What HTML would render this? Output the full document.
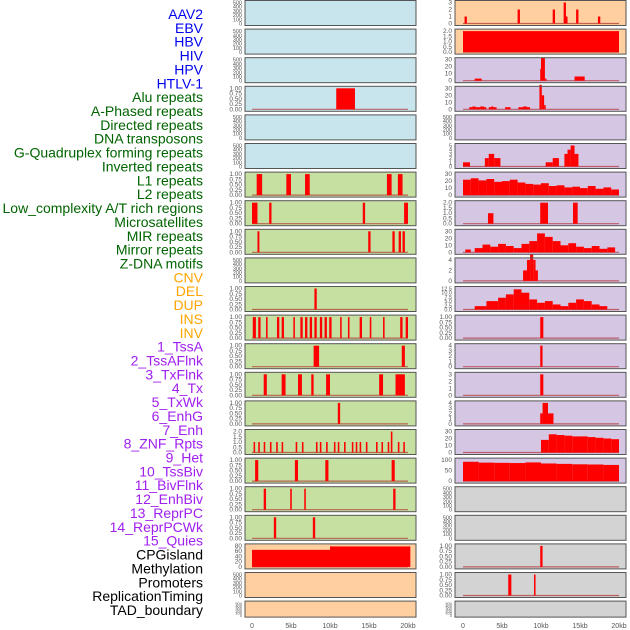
<!DOCTYPE html>
<html><head><meta charset="utf-8">
<style>
html,body{margin:0;padding:0;background:#fff;width:630px;height:630px;overflow:hidden}
svg{display:block}
text{font-family:"Liberation Sans",sans-serif}
</style></head>
<body>
<svg id="chart" width="630" height="630" viewBox="0 0 630 630" xmlns="http://www.w3.org/2000/svg"></svg>
<script>
// ---- data ----
const labels = ["AAV2","EBV","HBV","HIV","HPV","HTLV-1","Alu repeats","A-Phased repeats","Directed repeats","DNA transposons","G-Quadruplex forming repeats","Inverted repeats","L1 repeats","L2 repeats","Low_complexity A/T rich regions","Microsatellites","MIR repeats","Mirror repeats","Z-DNA motifs","CNV","DEL","DUP","INS","INV","1_TssA","2_TssAFlnk","3_TxFlnk","4_Tx","5_TxWk","6_EnhG","7_Enh","8_ZNF_Rpts","9_Het","10_TssBiv","11_BivFlnk","12_EnhBiv","13_ReprPC","14_ReprPCWk","15_Quies","CPGisland","Methylation","Promoters","ReplicationTiming","TAD_boundary"];
const labelColors = ["#0000ee","#0000ee","#0000ee","#0000ee","#0000ee","#0000ee","#006400","#006400","#006400","#006400","#006400","#006400","#006400","#006400","#006400","#006400","#006400","#006400","#006400","#ffa500","#ffa500","#ffa500","#ffa500","#ffa500","#a020f0","#a020f0","#a020f0","#a020f0","#a020f0","#a020f0","#a020f0","#a020f0","#a020f0","#a020f0","#a020f0","#a020f0","#a020f0","#a020f0","#a020f0","#000","#000","#000","#000","#000"];
const xTicks = [0,5,10,15,20];
const xTickLabels = ["0","5kb","10kb","15kb","20kb"];
const T500=[0,100,200,300,400,500], T1=[0,0.25,0.5,0.75,1], T2=[0,0.5,1,1.5,2], T3=[0,1,2,3], T30=[0,10,20,30];
const leftBg = ["#c8e4ec","#c8e4ec","#c8e4ec","#c8e4ec","#c8e4ec","#c8e4ec","#c6e0a2","#c6e0a2","#c6e0a2","#c6e0a2","#c6e0a2","#c6e0a2","#c6e0a2","#c6e0a2","#c6e0a2","#c6e0a2","#c6e0a2","#c6e0a2","#c6e0a2","#ffcf9f","#ffcf9f","#ffcf9f"];
const rightBg = ["#ffcf9f","#ffcf9f","#d5c7e3","#d5c7e3","#d5c7e3","#d5c7e3","#d5c7e3","#d5c7e3","#d5c7e3","#d5c7e3","#d5c7e3","#d5c7e3","#d5c7e3","#d5c7e3","#d5c7e3","#d5c7e3","#d5c7e3","#d3d3d3","#d3d3d3","#d3d3d3","#d3d3d3","#d3d3d3"];
const leftTicks = [T500,T500,T500,T1,T500,T500,T1,T1,T1,T500,T1,T1,T1,T1,T1,T2,T1,T1,T1,[0,20,40,60,80],T500,T500];
const rightTicks = [T3,T2,T30,T30,T500,[0,1,2,3,4,5],T30,T2,T30,[0,2,4],[0,2.5,5,7.5,10,12.5],T1,[0,1,2,3,4],T3,[0,1,2,3,4],T30,[0,50,100],T500,T500,T1,T1,T500];
// bars: [startKb, endKb, value]
const leftBars = [[],[],[],[[10.8,13.2,1]],[],[],
 [[0.6,1.3,1],[4.4,5.0,1],[6.8,7.4,1],[17.3,17.9,1],[18.7,19.3,1]],
 [[0,0.7,1],[2.2,2.5,1],[14.2,14.5,1],[19.5,20,1]],
 [[0.7,0.95,1],[14.9,15.2,1],[18.0,18.3,1],[18.8,19.1,1],[19.3,19.6,1]],
 [],
 [[8.0,8.3,1]],
 [[0.1,0.5,1],[0.8,1.1,1],[1.8,2.0,1],[3.2,3.5,1],[3.8,4.1,1],[5.3,5.5,1],[6.2,6.5,1],[6.8,7.1,1],[7.4,7.7,1],[8.0,8.3,1],[8.7,9.0,1],[9.3,9.6,1],[9.9,10.2,1],[11.3,11.5,1],[12.3,12.5,1],[13.8,14.1,1],[15.1,15.3,1],[16.8,17.0,1],[19.0,19.3,1],[19.7,20,1]],
 [[7.9,8.6,1],[19.2,19.6,1]],
 [[1.5,1.9,1],[3.8,4.3,1],[5.9,6.4,1],[7.6,7.9,1],[9.5,10.0,1],[16.3,16.8,1],[18.4,19.6,1]],
 [[11.0,11.3,1]],
 [[0.2,0.4,1],[0.8,1.0,1],[1.5,1.7,1],[2.3,2.5,1],[3.1,3.3,1],[3.8,4.0,1],[5.6,5.8,1],[6.4,6.6,1],[8.2,8.4,1],[8.7,8.9,1],[9.5,9.7,1],[10.5,10.7,1],[11.0,11.2,1],[11.8,12.0,1],[12.8,13.0,1],[13.3,13.5,1],[13.8,14.0,1],[14.6,14.8,1],[15.9,16.1,1],[16.6,16.8,1],[17.4,17.6,1],[17.8,18.0,2],[18.7,18.9,1],[19.4,19.6,1]],
 [[0.4,0.8,1],[5.5,5.9,1],[9.4,9.8,1],[17.9,18.3,1]],
 [[1.5,1.8,1],[4.9,5.1,1],[6.7,6.9,1],[18.1,18.4,1]],
 [[2.8,3.1,1],[7.8,8.1,1]],
 [[0,10,65],[10,20.3,78]],
 [],[]];
const rightBars = [
 [[0.2,0.5,1],[7.0,7.3,2],[11.5,11.8,2],[12.9,13.2,3],[13.1,13.4,1],[14.5,14.8,2],[17.3,17.6,1]],
 [[0,20,2]],
 [[1.5,2.4,3],[9.9,10.1,17],[10.0,10.5,33],[10.5,10.7,3],[14.3,15.6,6]],
 [[0.8,1.2,3],[1.2,1.6,4],[1.6,2.2,3],[2.2,2.7,4],[2.7,3.0,3],[3.3,3.6,3],[3.6,3.9,4],[3.9,4.3,3],[5.4,6.1,3],[7.1,7.7,3],[7.7,8.2,4],[8.2,8.6,3],[9.8,10.1,35],[10.1,10.4,20],[10.4,10.6,6]],
 [],
 [[0.0,0.9,1],[2.8,3.3,2],[3.3,4.0,3],[4.0,4.8,2],[10.6,11.5,1],[11.5,12.3,2],[13.0,13.4,3],[13.4,13.8,4],[13.8,14.3,5],[14.3,14.8,3]],
 [[0,1,22],[1,2,24],[2,3,21],[3,4,23],[4,5,19],[5,6,20],[6,7,22],[7,8,18],[8,9,16],[9,10,15],[10,11,17],[11,12,13],[12,13,14],[13,14,11],[14,15,12],[15,16,10],[16,17,13],[17,18,9],[18,19,11],[19,20,8]],
 [[3.2,3.9,1],[9.9,10.9,2],[14.1,14.7,2]],
 [[0.3,1.0,4],[1.5,2.5,6],[2.5,3.5,11],[3.5,4.5,8],[4.5,5.5,12],[5.5,6.5,9],[6.5,7.5,6],[7.5,8.5,12],[8.5,9.5,16],[9.5,10.5,27],[10.5,11.5,22],[11.5,12.5,16],[12.5,13.5,10],[13.5,14.5,13],[14.5,15.5,8],[15.5,16.5,6],[16.5,17.5,9],[17.5,18.5,5],[18.5,19.5,7]],
 [[7.7,8.2,2],[8.2,8.6,4],[8.6,9.0,5],[9.0,9.3,4],[9.3,9.6,2]],
 [[1.5,3.0,2],[3.0,4.5,5],[4.5,5.5,7],[5.5,6.5,9],[6.5,7.5,12],[7.5,8.5,10],[8.5,9.5,6],[9.5,10.5,4],[10.5,11.5,5],[11.5,12.5,3],[12.5,13.5,2],[13.5,14.5,4],[14.5,15.5,6],[15.5,16.5,5],[16.5,17.5,3],[17.5,18.5,2]],
 [[9.9,10.3,1]],
 [[9.9,10.2,4]],
 [[9.9,10.3,3]],
 [[9.9,10.2,2],[10.2,10.9,4],[10.9,11.6,2]],
 [[10,11,18],[11,12,26],[12,13,25],[13,14,24],[14,15,23],[15,16,23],[16,17,22],[17,18,21],[18,19,20],[19,20,19]],
 [[0,2,92],[2,4,88],[4,6,87],[6,8,86],[8,10,89],[10,12,84],[12,14,82],[14,16,80],[16,18,79],[18,20,77]],
 [],[],
 [[9.9,10.2,1]],
 [[5.8,6.2,1],[9.1,9.3,1]],
 []];
// ---- drawing ----
const svg=document.getElementById('chart');
const NS='http://www.w3.org/2000/svg';
function mk(tag,attrs,parent){const e=document.createElementNS(NS,tag);for(const k in attrs)e.setAttribute(k,attrs[k]);(parent||svg).appendChild(e);return e;}
const rowStep=28.6, panelH=25;
const cols=[{x0:245,x1:416,d0:252,d1:408,tx:242,bg:leftBg,ticks:leftTicks,bars:leftBars,name:'left'},
            {x0:455,x1:626,d0:463,d1:619,tx:452,bg:rightBg,ticks:rightTicks,bars:rightBars,name:'right'}];
labels.forEach((l,i)=>{
  const t=mk('text',{x:203,y:19+i*13.86,'text-anchor':'end','font-size':14,fill:labelColors[i]});
  t.textContent=l;
  
  
});
for(let r=0;r<22;r++){
  const top=r*rowStep+0.5, h=(r==21)?16:panelH;
  cols.forEach(c=>{
    const g=mk('g',{});
    
    
    mk('rect',{x:c.x0,y:top,width:c.x1-c.x0,height:h,fill:c.bg[r]},g);
    const ticks=c.ticks[r], vmax=ticks[ticks.length-1];
    const y0=top+h-2, y1=top+2;
    const ys=v=>y0-(v/vmax)*(y0-y1);
    const xs=k=>c.d0+(k/20)*(c.d1-c.d0);
    const fs = ticks.length>=6?(h<20?4:5.5):6.5;
    ticks.forEach(v=>{
      const t=mk('text',{x:c.tx,y:ys(v)+2,'text-anchor':'end','font-size':fs,fill:'#555'},g);
      t.textContent = (ticks===T1)?v.toFixed(2):(ticks===T2)?v.toFixed(1):(vmax==12.5?v.toFixed(1):String(v));
      
      
    });
    const bars=c.bars[r];
    if(bars.length){
      mk('line',{x1:c.d0,x2:c.d1,y1:y0,y2:y0,stroke:'#b03030','stroke-width':1.2,opacity:0.7},g);
      bars.forEach(b=>{
        const x=xs(b[0]), w=Math.max(1.5,xs(b[1])-xs(b[0]));
        const rc=mk('rect',{x:x,y:ys(b[2]),width:w,height:y0-ys(b[2]),fill:'#ff0000'},g);
        
        
      });
    }
    mk('rect',{x:c.x0,y:top,width:c.x1-c.x0,height:h,fill:'none',stroke:'#555','stroke-width':1},g);
  });
}
cols.forEach(c=>{
  xTicks.forEach((k,i)=>{
    const t=mk('text',{x:c.d0+(k/20)*(c.d1-c.d0),y:628,'text-anchor':'middle','font-size':7,fill:'#555'});
    t.textContent=xTickLabels[i];
    
    
  });
});
</script>
</body></html>
